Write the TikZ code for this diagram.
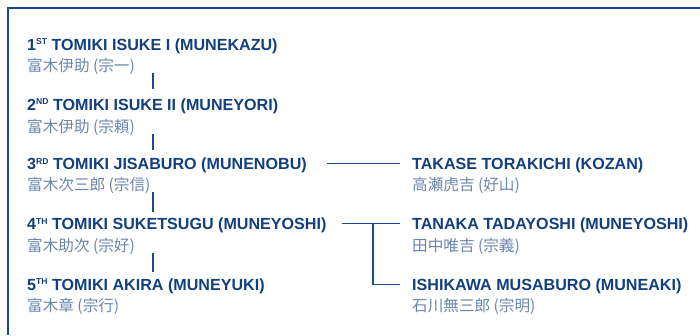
\documentclass[tikz,border=0pt]{standalone}
\usepackage{fontspec}
\setmainfont{Liberation Sans}
\newfontfamily\jfont{Noto Sans CJK JP}
\usetikzlibrary{calc}
\definecolor{navy}{HTML}{123F7E}
\definecolor{jgray}{HTML}{6A86AD}
\definecolor{lineblue}{HTML}{1C4A8A}
\newcommand{\ordsup}[1]{\raisebox{5.2pt}{\fontsize{8.6}{9}\selectfont #1}}
\begin{document}
\begin{tikzpicture}[x=1pt,y=-1pt,
  ttl/.style={anchor=base west, inner sep=0pt, text height=11.5pt, text depth=0pt,
    font=\fontsize{16.1}{18}\selectfont\bfseries, text=navy},
  jp/.style={anchor=base west, inner sep=0pt, text height=12pt, text depth=2pt,
    font=\fontsize{15.6}{17}\selectfont\jfont, text=jgray},
  conn/.style={draw=lineblue, line width=1.2pt},
  frame/.style={draw=lineblue, line width=1.6pt}]
\useasboundingbox (0,0) rectangle (700,335);
\draw[frame] (700,8) -- (8,8) -- (8,335);

% left column
\node[ttl] (t1) at (27,50) {1\ordsup{ST} TOMIKI ISUKE I (MUNEKAZU)};
\node[jp]  (j1) at (27,71) {富木伊助 (宗一)};
\node[ttl] (t2) at (27,110) {2\ordsup{ND} TOMIKI ISUKE II (MUNEYORI)};
\node[jp]  (j2) at (27,132) {富木伊助 (宗頼)};
\node[ttl] (t3) at (27,169.5) {3\ordsup{RD} TOMIKI JISABURO (MUNENOBU)};
\node[jp]  (j3) at (27,190) {富木次三郎 (宗信)};
\node[ttl] (t4) at (27,229.5) {4\ordsup{TH} TOMIKI SUKETSUGU (MUNEYOSHI)};
\node[jp]  (j4) at (27,251) {富木助次 (宗好)};
\node[ttl] (t5) at (27,290) {5\ordsup{TH} TOMIKI AKIRA (MUNEYUKI)};
\node[jp]  (j5) at (27,311) {富木章 (宗行)};

% right column
\node[ttl] (r1) at (412,169.5) {TAKASE TORAKICHI (KOZAN)};
\node[jp]  (q1) at (412,190) {高瀬虎吉 (好山)};
\node[ttl] (r2) at (412,229.5) {TANAKA TADAYOSHI (MUNEYOSHI)};
\node[jp]  (q2) at (412,251) {田中唯吉 (宗義)};
\node[ttl] (r3) at (412,290) {ISHIKAWA MUSABURO (MUNEAKI)};
\node[jp]  (q3) at (412,311) {石川無三郎 (宗明)};

% vertical bars
\coordinate (bx) at (153,0);
\draw[conn] (bx |- j1.south) -- ($(bx |- t2.north)+(0,-9)$);
\draw[conn] (bx |- j2.south) -- ($(bx |- t3.north)+(0,-8)$);
\draw[conn] (bx |- j3.south) -- ($(bx |- t4.north)+(0,-6)$);
\draw[conn] (bx |- j4.south) -- ($(bx |- t5.north)+(0,-6)$);

% horizontal connectors
\draw[conn] ($(t3.east)+(20,0)$) -- ($(r1.west)+(-12,0)$);
\draw[conn] ($(t4.east)+(15,0)$) -- ($(r2.west)+(-12,0)$);
\draw[conn] ($(r2.west)+(-39,0)$) |- ($(r3.west)+(-12,0)$);
\end{tikzpicture}
\end{document}
